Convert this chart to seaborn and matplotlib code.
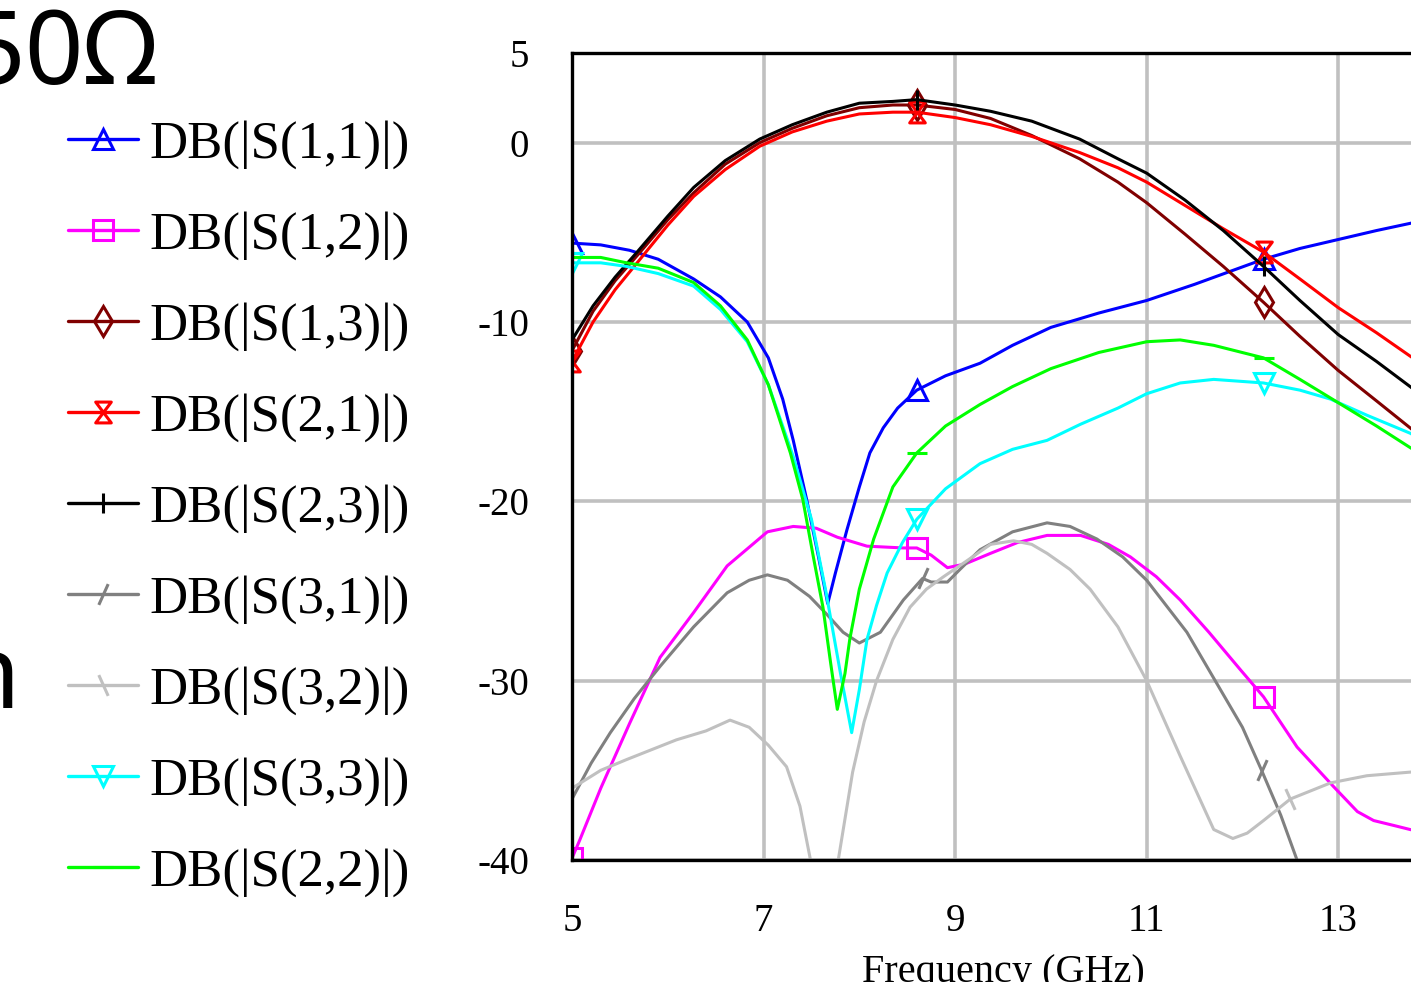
import numpy as np
import pandas as pd
import seaborn as sns
import matplotlib.pyplot as plt
from matplotlib.path import Path

# ---- data (frequency in GHz, level in dB) ----
x_s11 = [5.0, 5.3, 5.6, 5.9, 6.27, 6.55, 6.83, 7.05, 7.2, 7.31, 7.45, 7.57, 7.67, 7.75, 7.87, 8.0, 8.11,
         8.25, 8.4, 8.6, 8.9, 9.26, 9.6, 10.0, 10.5, 11.0, 11.5, 12.22, 12.6, 13.0, 13.4, 13.75, 14.0]
y_s11 = [-5.6, -5.7, -6.0, -6.5, -7.6, -8.6, -10.0, -12.0, -14.3, -16.6, -19.9, -23.0, -25.7, -24.0, -21.6,
         -19.2, -17.3, -15.9, -14.8, -13.8, -13.0, -12.3, -11.3, -10.3, -9.5, -8.8, -7.9, -6.5, -5.9, -5.4,
         -4.9, -4.5, -4.2]

x_s12 = [5.0, 5.08, 5.3, 5.6, 5.92, 6.27, 6.62, 7.04, 7.31, 7.55, 7.77, 8.08, 8.46, 8.6, 8.75, 8.92, 9.1,
         9.37, 9.65, 9.96, 10.31, 10.6, 10.83, 11.1, 11.35, 11.65, 11.98, 12.22, 12.57, 12.95, 13.2, 13.37,
         13.6, 13.75, 14.0]
y_s12 = [-39.9, -38.9, -36.0, -32.4, -28.7, -26.2, -23.6, -21.7, -21.4, -21.5, -22.0, -22.5, -22.6, -22.6,
         -23.0, -23.7, -23.5, -22.9, -22.3, -21.9, -21.9, -22.4, -23.1, -24.2, -25.5, -27.3, -29.4, -30.9,
         -33.7, -35.9, -37.3, -37.8, -38.1, -38.3, -38.6]

x_top = [5.0, 5.22, 5.45, 5.68, 6.0, 6.27, 6.6, 6.96, 7.3, 7.66, 8.0, 8.35, 8.6, 9.0, 9.37, 9.8, 10.3,
         10.7, 11.0, 11.4, 11.8, 12.22, 12.6, 13.0, 13.4, 13.75, 14.0]
y_s13 = [-11.6, -9.4, -7.7, -6.3, -4.3, -2.8, -1.2, 0.0, 0.8, 1.5, 1.95, 2.1, 2.1, 1.85, 1.35, 0.4, -0.9,
         -2.2, -3.35, -5.1, -6.9, -8.9, -10.8, -12.7, -14.4, -15.9, -17.0]
y_s21 = [-12.2, -10.0, -8.2, -6.7, -4.6, -3.0, -1.5, -0.2, 0.6, 1.2, 1.6, 1.7, 1.7, 1.4, 1.0, 0.35, -0.55,
         -1.4, -2.2, -3.5, -4.8, -6.1, -7.6, -9.2, -10.6, -11.9, -12.8]
y_s23 = [-11.0, -9.1, -7.5, -6.1, -4.1, -2.5, -1.0, 0.2, 1.0, 1.7, 2.2, 2.3, 2.4, 2.1, 1.75, 1.2, 0.2,
         -0.9, -1.7, -3.2, -4.9, -6.9, -8.8, -10.7, -12.2, -13.6, -14.6]

x_s31 = [5.0, 5.2, 5.4, 5.65, 5.92, 6.27, 6.62, 6.85, 7.04, 7.25, 7.48, 7.66, 7.83, 8.0, 8.22, 8.46, 8.66,
         8.75, 8.92, 9.05, 9.26, 9.6, 9.96, 10.2, 10.48, 10.75, 11.0, 11.42, 11.77, 12.0, 12.2, 12.4, 12.57, 12.75]
y_s31 = [-36.6, -34.6, -32.9, -31.0, -29.2, -27.0, -25.1, -24.4, -24.1, -24.4, -25.3, -26.3, -27.3, -27.9,
         -27.3, -25.5, -24.3, -24.5, -24.5, -23.8, -22.7, -21.7, -21.2, -21.4, -22.1, -23.1, -24.4, -27.3,
         -30.5, -32.6, -35.0, -37.5, -40.0, -42.5]

x_s32 = [5.0, 5.3, 5.57, 6.09, 6.4, 6.65, 6.85, 7.05, 7.24, 7.38, 7.49, 7.63, 7.78, 7.93, 8.05, 8.18, 8.35,
         8.53, 8.7, 8.88, 9.1, 9.37, 9.61, 9.8, 9.96, 10.2, 10.41, 10.7, 11.0, 11.35, 11.7, 11.9, 12.05, 12.22,
         12.5, 12.92, 13.3, 13.75, 14.0]
y_s32 = [-36.0, -35.0, -34.4, -33.3, -32.8, -32.2, -32.6, -33.6, -34.8, -37.0, -40.0, -46.0, -40.0, -35.1,
         -32.3, -30.0, -27.7, -25.9, -24.9, -24.2, -23.4, -22.4, -22.2, -22.4, -22.9, -23.8, -24.9, -27.0,
         -30.0, -34.2, -38.3, -38.8, -38.5, -37.8, -36.6, -35.7, -35.3, -35.1, -35.0]

x_s33 = [5.0, 5.3, 5.57, 5.9, 6.27, 6.55, 6.83, 7.05, 7.31, 7.5, 7.65, 7.8, 7.92, 8.0, 8.08, 8.18, 8.29,
         8.45, 8.6, 8.9, 9.26, 9.6, 9.96, 10.31, 10.7, 11.0, 11.35, 11.7, 12.22, 12.6, 12.92, 13.3, 13.75, 14.0]
y_s33 = [-6.7, -6.7, -6.9, -7.3, -8.0, -9.3, -11.1, -13.5, -17.5, -21.0, -25.0, -29.5, -32.9, -30.5, -27.7,
         -25.8, -24.0, -22.3, -21.0, -19.3, -17.9, -17.1, -16.6, -15.7, -14.8, -14.0, -13.4, -13.2, -13.4,
         -13.8, -14.3, -15.2, -16.2, -16.9]

x_s22 = [5.0, 5.3, 5.57, 5.9, 6.27, 6.55, 6.83, 7.05, 7.28, 7.41, 7.52, 7.62, 7.7, 7.77, 7.85, 7.9, 8.0,
         8.15, 8.35, 8.6, 8.9, 9.26, 9.6, 10.0, 10.5, 11.0, 11.35, 11.7, 12.22, 12.6, 13.0, 13.4, 13.75, 14.0]
y_s22 = [-6.4, -6.4, -6.7, -7.0, -7.8, -9.1, -11.0, -13.5, -17.3, -19.9, -23.1, -25.9, -29.0, -31.6, -29.6,
         -27.7, -24.9, -22.1, -19.2, -17.3, -15.8, -14.6, -13.6, -12.6, -11.7, -11.1, -11.0, -11.3, -12.0,
         -13.2, -14.5, -15.8, -17.0, -17.8]

labels = ['DB(|S(1,1)|)', 'DB(|S(1,2)|)', 'DB(|S(1,3)|)', 'DB(|S(2,1)|)', 'DB(|S(2,3)|)',
          'DB(|S(3,1)|)', 'DB(|S(3,2)|)', 'DB(|S(3,3)|)', 'DB(|S(2,2)|)']
x_ticks = [5, 7, 9, 11, 13]
y_ticks = [5, 0, -10, -20, -30, -40]

# ---- markers ----
hourglass = Path([(-0.75, 1), (0.75, 1), (-0.75, -1), (0.75, -1), (-0.75, 1)],
                 [Path.MOVETO, Path.LINETO, Path.LINETO, Path.LINETO, Path.CLOSEPOLY])
slash = Path([(-0.45, -1), (0.45, 1)], [Path.MOVETO, Path.LINETO])
backslash = Path([(-0.45, 1), (0.45, -1)], [Path.MOVETO, Path.LINETO])

series = [
    (x_s11, y_s11, '#0000ff', '^', [5.0, 8.6, 12.22]),
    (x_s12, y_s12, '#ff00ff', 's', [5.0, 8.6, 12.22]),
    (x_top, y_s13, '#800000', 'd', [5.0, 8.6, 12.22]),
    (x_top, y_s21, '#ff0000', hourglass, [5.0, 8.6, 12.22]),
    (x_top, y_s23, '#000000', '|', [8.6, 12.22]),
    (x_s31, y_s31, '#808080', slash, [8.66, 12.2]),
    (x_s32, y_s32, '#c0c0c0', backslash, [12.5]),
    (x_s33, y_s33, '#00ffff', 'v', [5.0, 8.6, 12.22]),
    (x_s22, y_s22, '#00ff00', '_', [8.6, 12.22]),
]

sns.set_theme(style='white')
plt.rcParams['font.family'] = ['Liberation Serif', 'DejaVu Serif']
plt.rcParams['axes.unicode_minus'] = False
plt.rcParams['text.color'] = 'black'

fig = plt.figure(figsize=(14.11, 9.82), dpi=100)
W, H = 1411, 982
ax = fig.add_axes([572 / W, 1 - 860 / H, (1434 - 572) / W, (860 - 53) / H])

for (xs, ys, col, mk, mpos), lab in zip(series, labels):
    df = pd.DataFrame({'f': xs, 'db': ys})
    idx = [xs.index(v) for v in mpos]
    sns.lineplot(data=df, x='f', y='db', ax=ax, color=col, lw=2.2, marker=mk, markevery=idx,
                 markersize=15, markerfacecolor='none', markeredgecolor=col, markeredgewidth=2.2,
                 estimator=None, sort=False, label=lab)

ax.set_xlim(5, 14)
ax.set_ylim(-40, 5)
ax.set_xticks(x_ticks)
ax.set_xticklabels([str(t) for t in x_ticks])
ax.set_yticks(y_ticks)
ax.set_yticklabels([str(t) for t in y_ticks])
ax.grid(True, color='#c0c0c0', lw=2.6)
ax.set_axisbelow(True)
for s in ['left', 'top', 'bottom', 'right']:
    ax.spines[s].set_color('black')
    ax.spines[s].set_linewidth(2.4)
ax.tick_params(axis='both', length=0, labelsize=28, colors='black')
ax.tick_params(axis='x', pad=31)
ax.tick_params(axis='y', pad=31)
ax.set_xlabel('Frequency (GHz)', fontsize=29, color='black', labelpad=10)
ax.set_ylabel('')

leg = ax.legend(loc='upper left', bbox_to_anchor=(68 / W, 1 - 120 / H), bbox_transform=fig.transFigure,
                frameon=False, fontsize=38, borderpad=0, borderaxespad=0, handlelength=1.33,
                handletextpad=0.22, labelspacing=0.80)
for h in leg.legend_handles:
    h.set_markersize(15)
    h.set_linewidth(2.4)
for t in leg.get_texts():
    t.set_color('black')

# slide text fragments around the chart
fig.text(158 / W, 1 - 84 / H, '50Ω', fontsize=74, family='Noto Sans', ha='right', va='baseline',
         color='black')
fig.text(20 / W, 1 - 708 / H, 'n', fontsize=74, family='Noto Sans', ha='right', va='baseline',
         color='black')

fig.savefig('out.png', dpi=100)
